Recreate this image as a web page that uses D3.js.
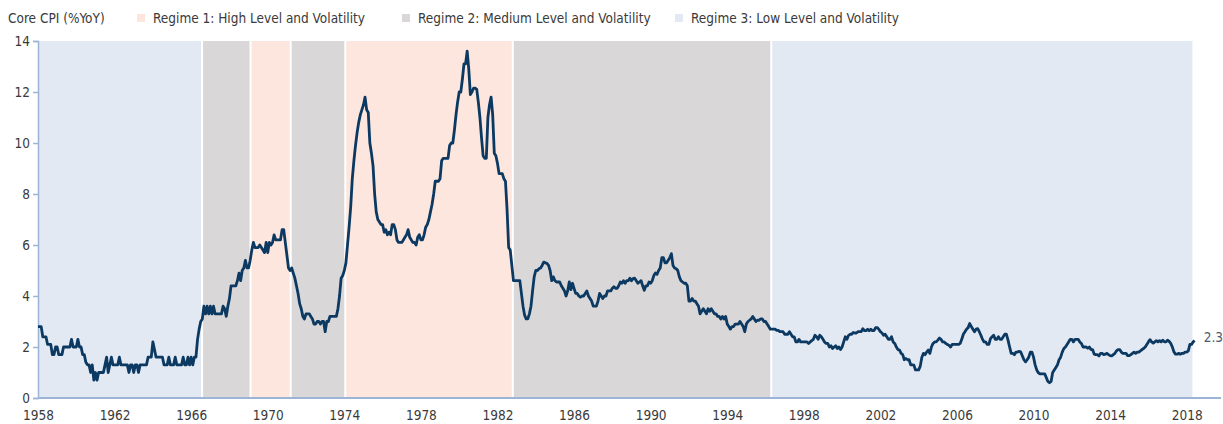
<!DOCTYPE html>
<html>
<head>
<meta charset="utf-8">
<script src="https://cdn.jsdelivr.net/npm/d3@7"></script>
<style>
  body { margin: 0; background: #fff; }
  svg text { font-family: "Liberation Sans Narrow", "DejaVu Sans Condensed", "Roboto Condensed", sans-serif; }
</style>
</head>
<body>
<div id="wrapper"></div>
<script>
// Monthly core CPI, % year on year, Jan 1958 .. Jun 2018 (one row per year)
const startYear = 1958;
const coreCpi = [
  2.8, 2.8, 2.8, 2.4, 2.4, 2.4, 2.1, 2.1, 2.1, 1.7, 1.7, 2.0,
  2.0, 1.7, 1.7, 1.7, 2.0, 2.0, 2.0, 2.0, 2.0, 2.3, 2.0, 2.0,
  2.0, 2.3, 2.0, 2.0, 1.7, 1.7, 1.4, 1.3, 1.3, 1.0, 1.3, 0.7,
  1.0, 0.7, 1.0, 1.0, 1.0, 1.0, 1.3, 1.6, 1.0, 1.3, 1.6, 1.3,
  1.3, 1.3, 1.3, 1.6, 1.3, 1.3, 1.3, 1.3, 1.3, 1.0, 1.3, 1.3,
  1.0, 1.3, 1.3, 1.0, 1.3, 1.3, 1.3, 1.3, 1.3, 1.6, 1.6, 1.6,
  2.2, 1.9, 1.6, 1.6, 1.6, 1.6, 1.6, 1.3, 1.3, 1.3, 1.6, 1.3,
  1.3, 1.3, 1.6, 1.3, 1.3, 1.3, 1.3, 1.6, 1.3, 1.3, 1.6, 1.3,
  1.6, 1.3, 1.6, 1.6, 2.3, 2.7, 3.0, 3.1, 3.6, 3.3, 3.6, 3.3,
  3.6, 3.3, 3.6, 3.3, 3.3, 3.3, 3.3, 3.3, 3.6, 3.5, 3.2, 3.6,
  3.9, 4.4, 4.4, 4.4, 4.4, 4.6, 4.9, 4.6, 5.0, 5.1, 5.4, 5.1,
  5.1, 5.4, 5.8, 6.1, 5.9, 5.9, 5.9, 6.0, 5.9, 5.8, 5.7, 6.1,
  5.7, 6.1, 6.0, 6.1, 6.4, 6.2, 6.2, 6.2, 6.2, 6.6, 6.6, 6.1,
  5.6, 5.1, 5.0, 5.1, 4.9, 4.7, 4.4, 4.1, 3.7, 3.5, 3.2, 3.1,
  3.3, 3.3, 3.3, 3.2, 3.1, 2.9, 2.9, 3.0, 3.0, 2.9, 3.0, 3.0,
  2.6, 3.0, 3.0, 3.2, 3.2, 3.2, 3.2, 3.2, 3.5, 4.0, 4.7, 4.8,
  5.0, 5.3, 6.0, 6.7, 7.5, 8.6, 9.3, 9.9, 10.4, 10.8, 11.1, 11.3,
  11.5, 11.8, 11.3, 11.2, 10.0, 9.6, 9.1, 8.0, 7.3, 7.0, 6.9, 6.8,
  6.8, 6.5, 6.6, 6.4, 6.5, 6.4, 6.8, 6.8, 6.6, 6.2, 6.1, 6.1,
  6.1, 6.2, 6.3, 6.4, 6.6, 6.3, 6.2, 6.1, 6.1, 6.0, 6.3, 6.4,
  6.2, 6.2, 6.4, 6.7, 6.8, 7.0, 7.3, 7.6, 8.0, 8.5, 8.5, 8.5,
  8.6, 9.3, 9.4, 9.4, 9.4, 9.4, 9.9, 10.0, 10.0, 10.5, 11.1, 11.6,
  12.0, 12.0, 12.5, 13.1, 13.1, 13.6, 12.9, 11.9, 12.0, 12.15, 12.15, 12.1,
  11.6, 11.0, 10.2, 9.5, 9.4, 9.4, 11.0, 11.5, 11.8, 11.1, 9.6, 9.5,
  9.2, 8.8, 8.8, 8.8, 8.6, 8.5, 7.4, 5.9, 5.8, 5.2, 4.6, 4.6,
  4.6, 4.6, 4.6, 4.1, 3.6, 3.25, 3.1, 3.1, 3.3, 3.6, 4.2, 4.75,
  5.0, 5.0, 5.07, 5.1, 5.2, 5.33, 5.3, 5.28, 5.2, 5.0, 4.6, 4.75,
  4.6, 4.55, 4.55, 4.55, 4.4, 4.3, 4.2, 4.0, 4.2, 4.55, 4.25, 4.5,
  4.3, 4.1, 4.1, 4.0, 3.95, 4.0, 4.0, 4.1, 4.2, 4.0, 3.9, 3.8,
  3.6, 3.6, 3.6, 3.8, 4.1, 4.0, 3.9, 4.0, 4.0, 4.2, 4.2, 4.2,
  4.3, 4.36, 4.3, 4.3, 4.4, 4.55, 4.5, 4.6, 4.5, 4.6, 4.6, 4.7,
  4.6, 4.68, 4.7, 4.6, 4.5, 4.55, 4.6, 4.4, 4.22, 4.4, 4.4, 4.55,
  4.5, 4.6, 4.8, 4.9, 4.85, 5.0, 5.1, 5.5, 5.5, 5.3, 5.3, 5.4,
  5.5, 5.66, 5.2, 5.1, 5.07, 5.0, 4.75, 4.6, 4.55, 4.5, 4.5, 4.4,
  3.8, 3.8, 3.9, 3.8, 3.8, 3.7, 3.6, 3.3, 3.4, 3.5, 3.4, 3.3,
  3.5, 3.4, 3.5, 3.4, 3.3, 3.3, 3.2, 3.2, 3.1, 3.2, 3.1, 3.2,
  2.9, 2.8, 2.7, 2.8, 2.8, 2.9, 2.9, 2.9, 3.0, 2.9, 2.8, 2.6,
  2.9, 3.0, 3.05, 3.1, 3.2, 3.1, 3.0, 3.05, 3.05, 3.1, 3.1, 3.0,
  3.0, 2.9, 2.8, 2.7, 2.7, 2.7, 2.7, 2.65, 2.65, 2.6, 2.6, 2.6,
  2.5, 2.5, 2.5, 2.6, 2.5, 2.4, 2.4, 2.2, 2.2, 2.3, 2.2, 2.2,
  2.2, 2.2, 2.2, 2.14, 2.2, 2.25, 2.3, 2.46, 2.4, 2.3, 2.46, 2.4,
  2.3, 2.2, 2.14, 2.14, 2.0, 2.05, 1.94, 2.0, 2.05, 1.94, 2.0, 1.9,
  2.0, 2.2, 2.4, 2.3, 2.45, 2.5, 2.5, 2.57, 2.55, 2.55, 2.6, 2.6,
  2.6, 2.72, 2.64, 2.64, 2.7, 2.64, 2.7, 2.64, 2.64, 2.76, 2.76, 2.7,
  2.6, 2.55, 2.46, 2.5, 2.4, 2.3, 2.3, 2.4, 2.2, 2.14, 2.0, 1.9,
  1.88, 1.75, 1.7, 1.5, 1.55, 1.5, 1.5, 1.3, 1.3, 1.29, 1.1, 1.1,
  1.1, 1.25, 1.6, 1.75, 1.7, 1.8, 1.88, 1.75, 2.0, 2.14, 2.2, 2.2,
  2.27, 2.35, 2.3, 2.2, 2.2, 2.14, 2.1, 2.07, 2.0, 2.1, 2.1, 2.1,
  2.1, 2.1, 2.14, 2.3, 2.5, 2.6, 2.7, 2.76, 2.92, 2.8, 2.7, 2.6,
  2.7, 2.72, 2.6, 2.46, 2.3, 2.2, 2.2, 2.1, 2.1, 2.33, 2.4, 2.46,
  2.3, 2.3, 2.4, 2.3, 2.3, 2.4, 2.5, 2.5, 2.27, 2.0, 1.75, 1.75,
  1.7, 1.8, 1.8, 1.83, 1.8, 1.65, 1.5, 1.42, 1.5, 1.6, 1.8, 1.8,
  1.6, 1.3, 1.1, 0.99, 0.95, 0.95, 0.95, 0.95, 0.8, 0.65, 0.6, 0.65,
  1.0, 1.1, 1.2, 1.3, 1.5, 1.6, 1.8, 1.94, 2.0, 2.1, 2.2, 2.3,
  2.3, 2.2, 2.3, 2.3, 2.3, 2.2, 2.14, 2.0, 2.0, 2.0, 1.95, 2.0,
  1.9, 1.9, 1.72, 1.7, 1.7, 1.65, 1.75, 1.75, 1.7, 1.72, 1.75, 1.7,
  1.66, 1.65, 1.7, 1.75, 1.85, 1.9, 1.9, 1.8, 1.75, 1.75, 1.75, 1.66,
  1.66, 1.7, 1.75, 1.8, 1.75, 1.8, 1.8, 1.85, 1.9, 1.94, 2.0, 2.1,
  2.2, 2.29, 2.2, 2.15, 2.2, 2.25, 2.2, 2.25, 2.2, 2.27, 2.2, 2.2,
  2.27, 2.22, 2.14, 2.0, 1.81, 1.72, 1.72, 1.75, 1.72, 1.75, 1.75, 1.8,
  1.8, 1.85, 2.1, 2.1, 2.2, 2.25
];
const lastLabel = '2.3';

// Regime periods (decimal years) and their regime number
const regimeStart = [1958, 1966.57, 1969.1, 1971.2, 1974.05, 1982.8, 1996.3];
const regimeEnd = [1966.57, 1969.1, 1971.2, 1974.05, 1982.8, 1996.3, 2018.3];
const regimeType = [3, 2, 1, 2, 1, 2, 3];

const legendLabels = [
  'Regime 1: High Level and Volatility',
  'Regime 2: Medium Level and Volatility',
  'Regime 3: Low Level and Volatility',
];
const seriesLabel = 'Core CPI (%YoY)';
const yTicks = [0, 2, 4, 6, 8, 10, 12, 14];
const xTicks = d3.range(1958, 2019, 4);

const regimeColors = { 1: '#fce6dd', 2: '#d9d7d8', 3: '#e3e9f3' };
const axisColor = '#9cb4d6';
const textColor = '#3a3a3a';

const dataset = coreCpi.map((v, i) => ({ t: startYear + i / 12, v }));
const regimes = regimeStart.map((s, i) => ({ s, e: regimeEnd[i], type: regimeType[i] }));

const dimensions = {
  width: 1223,
  height: 424,
  margin: { top: 41, left: 38, bottom: 26 },
};

const xScale = d3.scaleLinear().domain([1958, 2018]).range([38, 1186.7]);
const yScale = d3.scaleLinear().domain([0, 14]).range([398, 41]);

const svg = d3
  .select('#wrapper')
  .append('svg')
  .attr('width', dimensions.width)
  .attr('height', dimensions.height);

// Regime bands
svg
  .append('g')
  .selectAll('rect')
  .data(regimes)
  .join('rect')
  .attr('x', (d) => xScale(d.s))
  .attr('width', (d) => xScale(d.e) - xScale(d.s))
  .attr('y', yScale(14))
  .attr('height', yScale(0) - yScale(14))
  .attr('fill', (d) => regimeColors[d.type]);

// white separators between bands
svg
  .append('g')
  .selectAll('line')
  .data(regimes.slice(1))
  .join('line')
  .attr('x1', (d) => xScale(d.s))
  .attr('x2', (d) => xScale(d.s))
  .attr('y1', yScale(14))
  .attr('y2', yScale(0))
  .attr('stroke', '#fff')
  .attr('stroke-width', 2);

// Axes
const yAxis = d3.axisLeft(yScale).tickValues(yTicks).tickSize(5).tickPadding(3);
const yAxisG = svg
  .append('g')
  .attr('transform', `translate(${dimensions.margin.left}, 0)`)
  .call(yAxis);
yAxisG.select('.domain').attr('stroke', axisColor).attr('stroke-width', 1.5);
yAxisG.selectAll('.tick line').attr('stroke', axisColor).attr('stroke-width', 1.5);
yAxisG
  .selectAll('.tick text')
  .attr('fill', textColor)
  .style('font-size', '13.5px');

const xAxis = d3
  .axisBottom(xScale)
  .tickValues(xTicks)
  .tickFormat(d3.format('d'))
  .tickSize(0)
  .tickPadding(12);
const xAxisG = svg
  .append('g')
  .attr('transform', `translate(0, ${yScale(0)})`)
  .call(xAxis);
xAxisG.select('.domain').remove();
xAxisG
  .selectAll('.tick text')
  .attr('fill', textColor)
  .style('font-size', '13.5px');
xAxisG
  .append('line')
  .attr('x1', dimensions.margin.left)
  .attr('x2', 1221)
  .attr('stroke', axisColor)
  .attr('stroke-width', 2);

// Line
const lineGenerator = d3
  .line()
  .x((d) => xScale(d.t))
  .y((d) => yScale(d.v));

svg
  .append('path')
  .attr('d', lineGenerator(dataset))
  .attr('fill', 'none')
  .attr('stroke', '#0b3962')
  .attr('stroke-width', 2.8)
  .attr('stroke-linejoin', 'round');

const last = dataset[dataset.length - 1];
svg
  .append('text')
  .attr('x', xScale(last.t) + 9)
  .attr('y', yScale(last.v) - 3)
  .attr('dy', '0.35em')
  .attr('fill', '#4b5b70')
  .style('font-size', '13.5px')
  .text(lastLabel);

// Legend
const legend = svg.append('g');
legend
  .append('text')
  .attr('x', 8)
  .attr('y', 18)
  .attr('dy', '0.35em')
  .attr('fill', textColor)
  .style('font-size', '13.5px')
  .text(seriesLabel);

const legendX = [137, 402, 675];
legendLabels.forEach((label, i) => {
  legend
    .append('rect')
    .attr('x', legendX[i])
    .attr('y', 14)
    .attr('width', 8)
    .attr('height', 8)
    .attr('fill', regimeColors[i + 1]);
  legend
    .append('text')
    .attr('x', legendX[i] + 16)
    .attr('y', 18)
    .attr('dy', '0.35em')
    .attr('fill', textColor)
    .style('font-size', '13.5px')
    .text(label);
});
</script>
</body>
</html>
